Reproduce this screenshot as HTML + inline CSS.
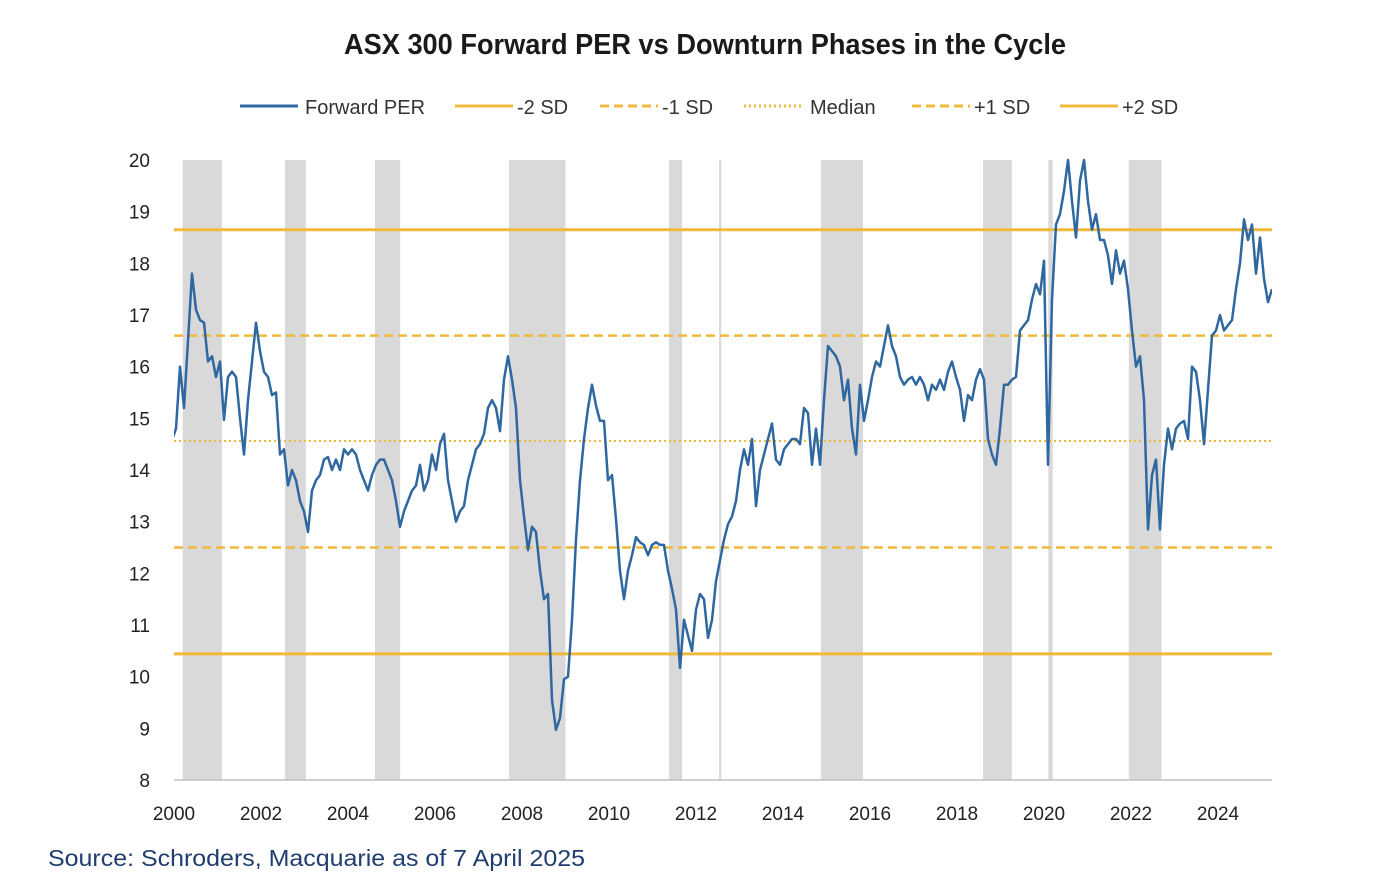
<!DOCTYPE html>
<html><head><meta charset="utf-8"><style>
body{margin:0;background:#fff;}
svg{display:block;font-family:"Liberation Sans",sans-serif;}
</style></head><body>
<svg id="chart" width="1375" height="881">
<text x="705" y="54" text-anchor="middle" font-size="29" font-weight="bold" fill="#1a1a1a" textLength="722" lengthAdjust="spacingAndGlyphs">ASX 300 Forward PER vs Downturn Phases in the Cycle</text>
<g id="legend" font-size="20" fill="#333"></g>
<g id="bands"></g>
<g id="hlines"></g>
<g id="axes"></g>
<g id="series"></g>
<text x="48" y="866" font-size="23" fill="#1f3d6e" textLength="537" lengthAdjust="spacingAndGlyphs">Source: Schroders, Macquarie as of 7 April 2025</text>
</svg>
<script>
const yTicks=[8,9,10,11,12,13,14,15,16,17,18,19,20];
const xTicks=[2000,2002,2004,2006,2008,2010,2012,2014,2016,2018,2020,2022,2024];
const bandStarts=[2000.2,2002.55,2004.62,2007.7,2011.38,2012.53,2014.87,2018.6,2020.1,2021.95];
const bandEnds=[2001.1,2003.03,2005.2,2009.0,2011.68,2012.58,2015.84,2019.26,2020.2,2022.7];
const sdNames=["-2 SD","-1 SD","Median","+1 SD","+2 SD"];
const sdValues=[10.44,12.5,14.56,16.6,18.65];
const startDate=1999.954, stepYears=0.09195;
const perValues=[14.58,14.8,16.0,15.2,16.5,17.8,17.1,16.9,16.85,16.1,16.2,15.8,16.1,14.97,15.8,15.9,15.8,15.0,14.3,15.35,16.1,16.85,16.3,15.9,15.8,15.45,15.5,14.3,14.4,13.7,14.0,13.8,13.4,13.2,12.8,13.6,13.8,13.9,14.2,14.25,14.0,14.2,14.0,14.4,14.3,14.4,14.3,14.0,13.8,13.6,13.9,14.1,14.2,14.2,14.0,13.8,13.4,12.9,13.2,13.4,13.6,13.7,14.1,13.6,13.8,14.3,14.0,14.5,14.7,13.8,13.4,13.0,13.2,13.3,13.8,14.1,14.4,14.5,14.7,15.2,15.35,15.2,14.75,15.75,16.2,15.75,15.2,13.8,13.1,12.45,12.9,12.8,12.05,11.5,11.6,9.55,8.97,9.2,9.95,10.0,11.1,12.65,13.8,14.6,15.2,15.65,15.25,14.95,14.95,13.8,13.9,13.05,12.05,11.5,12.05,12.35,12.7,12.6,12.55,12.35,12.55,12.6,12.55,12.55,12.05,11.7,11.3,10.17,11.1,10.8,10.5,11.3,11.6,11.5,10.75,11.1,11.85,12.25,12.65,12.95,13.1,13.4,14.0,14.4,14.1,14.6,13.3,14.0,14.3,14.6,14.9,14.2,14.1,14.4,14.5,14.6,14.6,14.5,15.2,15.1,14.1,14.8,14.1,15.35,16.4,16.3,16.2,16.0,15.35,15.75,14.8,14.3,15.65,14.95,15.35,15.8,16.1,16.0,16.4,16.8,16.4,16.2,15.8,15.65,15.75,15.8,15.65,15.8,15.65,15.35,15.65,15.55,15.75,15.55,15.9,16.1,15.8,15.55,14.95,15.45,15.35,15.75,15.95,15.75,14.6,14.3,14.1,14.8,15.65,15.65,15.75,15.8,16.7,16.8,16.9,17.3,17.6,17.4,18.05,14.1,17.3,18.75,18.95,19.4,20.0,19.2,18.5,19.6,20.0,19.2,18.65,18.95,18.45,18.45,18.15,17.6,18.25,17.8,18.05,17.5,16.7,16.0,16.2,15.35,12.85,13.9,14.2,12.85,14.1,14.8,14.4,14.8,14.9,14.95,14.6,16.0,15.9,15.35,14.5,15.55,16.6,16.7,17.0,16.7,16.8,16.9,17.5,18.0,18.85,18.45,18.75,17.8,18.5,17.7,17.25,17.5];

const NS="http://www.w3.org/2000/svg";
const X0=174,PX_PER_YEAR=43.5,Y0=780,PX_PER_UNIT=51.67,XR=1272;
const xs=v=>X0+(v-2000)*PX_PER_YEAR;
const ys=v=>Y0-(v-8)*PX_PER_UNIT;
function mk(tag,attrs,parent){const e=document.createElementNS(NS,tag);for(const k in attrs)e.setAttribute(k,attrs[k]);parent.appendChild(e);return e;}
const bands=document.getElementById('bands');
bandStarts.forEach((s,i)=>{
  const w=Math.max(2,xs(bandEnds[i])-xs(s));
  const r=mk('rect',{x:xs(s),y:ys(20),width:w,height:ys(8)-ys(20),fill:'#d9d9d9'},bands);
  
  
});
const styles=[{d:'none',w:3},{d:'9,5',w:2.5},{d:'2,3',w:2},{d:'9,5',w:2.5},{d:'none',w:3}];
const hl=document.getElementById('hlines');
sdValues.forEach((v,i)=>{
  const l=mk('line',{x1:X0,x2:XR,y1:ys(v),y2:ys(v),stroke:'#f0b93c','stroke-width':styles[i].w,'stroke-dasharray':styles[i].d},hl);
  
  
});
const ax=document.getElementById('axes');
mk('line',{x1:X0,x2:XR,y1:Y0,y2:Y0,stroke:'#bfbfbf','stroke-width':1.5},ax);
yTicks.forEach(t=>{
  const e=mk('text',{x:150,y:ys(t)+7,'text-anchor':'end','font-size':19,fill:'#222'},ax);
  e.textContent=t;
  
  
});
xTicks.forEach(t=>{
  const e=mk('text',{x:xs(t),y:820,'text-anchor':'middle','font-size':19,fill:'#222'},ax);
  e.textContent=t;
  
  
});
const defs=mk('defs',{},document.getElementById('chart'));
const cp=mk('clipPath',{id:'clip'},defs);
mk('rect',{x:X0,y:ys(20)-2,width:XR-X0,height:ys(8)-ys(20)+2},cp);
const pts=perValues.map((v,i)=>xs(startDate+i*stepYears).toFixed(1)+','+ys(v).toFixed(1)).join(' ');
const pl=mk('polyline',{points:pts,fill:'none',stroke:'#2f67a0','stroke-width':2.5,'stroke-linejoin':'round','clip-path':'url(#clip)'},document.getElementById('series'));


const lg=document.getElementById('legend');
const legItems=[{n:'Forward PER',x:240,c:'#2f67a0',d:'none'},{n:'-2 SD',x:455,c:'#f0b93c',d:'none'},{n:'-1 SD',x:600,c:'#f0b93c',d:'9,5'},{n:'Median',x:744,c:'#f0b93c',d:'2,3'},{n:'+1 SD',x:912,c:'#f0b93c',d:'9,5'},{n:'+2 SD',x:1060,c:'#f0b93c',d:'none'}];
legItems.forEach(it=>{
  const g=mk('g',{},lg);
  
  
  mk('line',{x1:it.x,x2:it.x+58,y1:106,y2:106,stroke:it.c,'stroke-width':3,'stroke-dasharray':it.d},g);
  const t=mk('text',{x:it.x+(it.n==='Forward PER'?65:(it.n==='Median'?66:62)),y:114,'font-size':20,fill:'#333'},g);
  t.textContent=it.n;
});
</script>
</body></html>
